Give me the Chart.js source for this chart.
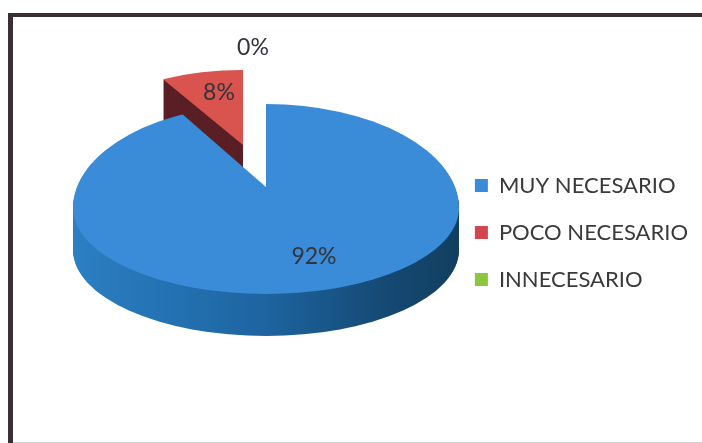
<!DOCTYPE html>
<html>
<head>
<meta charset="utf-8">
<script src="https://cdn.jsdelivr.net/npm/chart.js@4"></script>
<style>
  html, body { margin: 0; background: #fff; overflow: hidden; }
  .rule { position: absolute; background: #3a3034; }
  #top { left: 8px; top: 13px; width: 694px; height: 4px; }
  #left { left: 8px; top: 13px; width: 5px; height: 430px; }
  #bottom { left: 13px; top: 442px; width: 689px; height: 1px; background: #d4d4d4; }
  #myChart { position: absolute; left: 0; top: 0; }
</style>
</head>
<body>
<div class="rule" id="top"></div>
<div class="rule" id="left"></div>
<div class="rule" id="bottom"></div>
<canvas id="myChart" width="702" height="443"></canvas>
<script>
const categories = ['MUY NECESARIO', 'POCO NECESARIO', 'INNECESARIO'];
const values = [92, 8, 0];
const colors = ['#3a8cd8', '#d9534f', '#8cc63f'];
const legendColors = ['#3a8cd8', '#d2474f', '#8cc63f'];

// screen placement of the tilted pie
const RADIUS = 193;
const centerX = 266, apexY = 187;
// rim of the disc, widest below the apex because of the perspective
const rimY = 208, rimBack = 104, rimFront = 86;
const blueScaleX = 1.4, blueScaleY = 0.67;
const depth = 42;
// pulled out slice sits further back so it looks a bit smaller
const redX = 243, redY = 145, redScaleX = 0.86, redScaleY = 75 / RADIUS;

const labelSpots = [[314, 257], [219, 93], [253, 48]];

function drawArc(ctx, el, x, y, sx, sy, fill) {
  const saved = el.options;
  el.options = Object.assign({}, saved, { backgroundColor: fill });
  ctx.save();
  ctx.translate(x, y);
  ctx.scale(sx, sy);
  ctx.translate(-el.x, -el.y);
  el.draw(ctx);
  ctx.restore();
  el.options = saved;
}

// big slice: the wedge comes from the arc element, the rim from a clip
function drawDisc(ctx, el, drop, fill) {
  ctx.save();
  ctx.beginPath();
  ctx.ellipse(centerX, rimY + drop, RADIUS, rimBack, 0, Math.PI, 2 * Math.PI);
  ctx.ellipse(centerX, rimY + drop, RADIUS, rimFront, 0, 0, Math.PI);
  ctx.closePath();
  ctx.clip();
  drawArc(ctx, el, centerX, apexY + drop, blueScaleX, blueScaleY, fill);
  ctx.restore();
}

const tiltedPie = {
  id: 'tiltedPie',
  beforeDatasetsDraw(chart) {
    const ctx = chart.ctx;
    const arcs = chart.getDatasetMeta(0).data;
    const blue = arcs[0], red = arcs[1];

    for (let i = depth; i > 0; i--) {
      drawArc(ctx, red, redX, redY + i, redScaleX, redScaleY, '#5a1f25');
    }
    drawArc(ctx, red, redX, redY, redScaleX, redScaleY, colors[1]);

    const span = RADIUS / blueScaleX;
    const wall = ctx.createLinearGradient(blue.x - span, 0, blue.x + span, 0);
    wall.addColorStop(0, '#2b7fc3');
    wall.addColorStop(0.5, '#1d64a0');
    wall.addColorStop(0.8, '#154a75');
    wall.addColorStop(1, '#123f60');
    for (let i = depth; i > 0; i--) {
      drawDisc(ctx, blue, i, wall);
    }
    drawDisc(ctx, blue, 0, colors[0]);
    return false;
  },
  afterDraw(chart) {
    const ctx = chart.ctx;
    const total = values.reduce((a, b) => a + b, 0);
    ctx.save();
    ctx.font = '23px Lato';
    ctx.fillStyle = '#33343a';
    ctx.textAlign = 'center';
    ctx.textBaseline = 'middle';
    values.forEach((v, i) => {
      ctx.fillText(Math.round(v / total * 100) + '%', labelSpots[i][0], labelSpots[i][1]);
    });
    ctx.restore();
  }
};

new Chart(document.getElementById('myChart'), {
  type: 'pie',
  data: {
    labels: categories,
    datasets: [{ data: values, backgroundColor: legendColors, borderWidth: 0 }]
  },
  options: {
    responsive: false,
    animation: false,
    radius: RADIUS,
    layout: { padding: { top: 22, right: 4 } },
    plugins: {
      tooltip: { enabled: false },
      legend: {
        position: 'right',
        labels: {
          boxWidth: 13,
          boxHeight: 13,
          padding: 25,
          color: '#3a3a3a',
          font: { family: 'Lato', size: 22 }
        }
      }
    }
  },
  plugins: [tiltedPie]
});
</script>
</body>
</html>
